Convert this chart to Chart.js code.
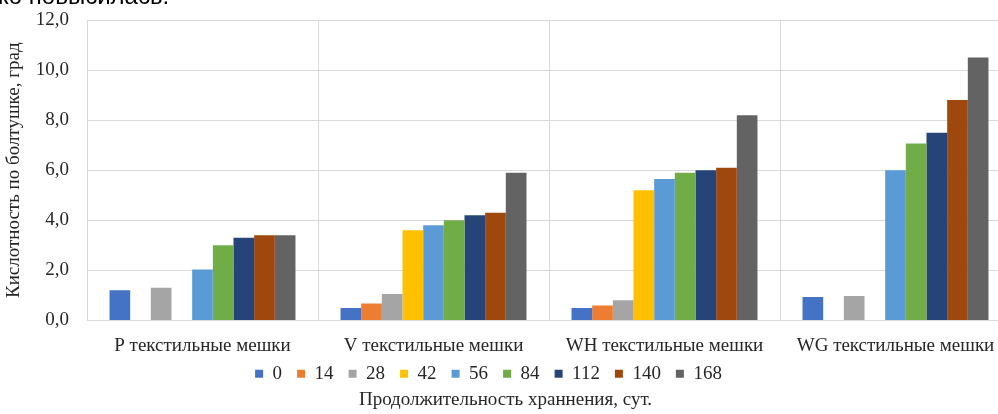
<!DOCTYPE html>
<html>
<head>
<meta charset="utf-8">
<script src="https://cdn.jsdelivr.net/npm/chart.js@4.4.0/dist/chart.umd.min.js"></script>
<style>
  html, body { margin: 0; padding: 0; background: #fff; overflow: hidden; }
  #wrap { position: relative; width: 998px; height: 414px; overflow: hidden; }
  #textoTopo { position: absolute; left: -2px; top: -16px; font: 24px "Liberation Sans", Arial, sans-serif; line-height: 24px; color: #000; white-space: nowrap; }
  canvas { position: absolute; left: 0; top: 0; }
</style>
</head>
<body>
<div id="wrap">
  <canvas id="chartBar" width="1016" height="414"></canvas>
  <div id="textoTopo">ко повысилась.</div>
</div>
<script>
// categorias e séries
const categorias = ['P текстильные мешки', 'V текстильные мешки', 'WH текстильные мешки', 'WG текстильные мешки'];
const dias = ['0', '14', '28', '42', '56', '84', '112', '140', '168'];
const cores = ['#4472C4', '#ED7D31', '#A5A5A5', '#FFC000', '#5B9BD5', '#70AD47', '#264478', '#9E480E', '#636363'];

const dia0   = [1.2, 0.5, 0.5, 0.93];
const dia14  = [null, 0.68, 0.6, null];
const dia28  = [1.3, 1.05, 0.8, 0.97];
const dia42  = [null, 3.6, 5.2, null];
const dia56  = [2.03, 3.8, 5.65, 6.0];
const dia84  = [3.0, 4.0, 5.9, 7.07];
const dia112 = [3.3, 4.2, 6.0, 7.5];
const dia140 = [3.4, 4.3, 6.1, 8.8];
const dia168 = [3.4, 5.9, 8.2, 10.5];

const valores = [dia0, dia14, dia28, dia42, dia56, dia84, dia112, dia140, dia168];

const fonte = '"Liberation Serif", "Times New Roman", serif';
const corTexto = '#262626';
const corGrade = '#d9d9d9';

const desvioLegendaX = -17;
const desvioLegendaY = -22;

// legenda fica entre os rótulos das categorias e o título do eixo
const ajusteLegenda = {
    id: 'ajusteLegenda',
    afterLayout(chart) {
        const lg = chart.legend;
        lg.left += desvioLegendaX;
        lg.right += desvioLegendaX;
        lg.top += desvioLegendaY;
        lg.bottom = lg.top + 50;
    }
};

var dadosBarra = {
    labels: categorias,
    datasets: dias.map(function (d, i) {
        return {
            label: d,
            backgroundColor: cores[i],
            data: valores[i],
            categoryPercentage: 0.805,
            barPercentage: 1.0
        };
    })
};

const ctx = document.getElementById('chartBar');

var myBarChart = new Chart(ctx, {
    type: 'bar',
    data: dadosBarra,
    plugins: [ajusteLegenda],
    options: {
        responsive: false,
        animation: false,
        devicePixelRatio: 1,
        layout: {
            padding: { top: 20, right: 5, bottom: 0, left: 0 }
        },
        scales: {
            x: {
                grid: { color: corGrade, drawTicks: false, offset: true },
                border: { display: true, color: corGrade },
                ticks: { color: corTexto, font: { family: fonte, size: 19 }, padding: 14, maxRotation: 0 }
            },
            y: {
                min: 0,
                max: 12,
                afterFit: function (scale) {
                    scale.width = 87;
                    scale.paddingTop = 0;
                    scale.paddingBottom = 0;
                },
                grid: { color: corGrade, drawTicks: false },
                border: { display: false },
                ticks: {
                    stepSize: 2,
                    color: corTexto,
                    font: { family: fonte, size: 19 },
                    padding: 18,
                    callback: function (v) { return v.toFixed(1).replace('.', ','); }
                },
                title: {
                    display: true,
                    text: 'Кислотность по болтушке, град',
                    color: corTexto,
                    font: { family: fonte, size: 19 },
                    padding: { top: 3, bottom: 0 }
                }
            }
        },
        plugins: {
            legend: {
                position: 'bottom',
                maxHeight: 17,
                labels: {
                    boxWidth: 8,
                    boxHeight: 8,
                    padding: 15,
                    color: corTexto,
                    font: { family: fonte, size: 19 }
                }
            },
            title: {
                display: true,
                position: 'bottom',
                text: 'Продолжительность храннения, сут.',
                color: corTexto,
                font: { family: fonte, size: 19, weight: 'normal' },
                padding: { top: 0, bottom: 3 }
            },
            tooltip: { enabled: false }
        }
    }
});
</script>
</body>
</html>
